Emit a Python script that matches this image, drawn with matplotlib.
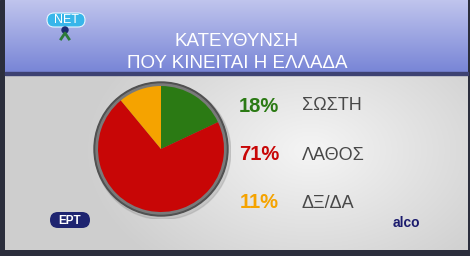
import numpy as np
import matplotlib
matplotlib.use("Agg")
import matplotlib.pyplot as plt
from matplotlib.patches import FancyBboxPatch, Circle

# ---- data ----
title_lines = ["ΚΑΤΕΥΘΥΝΣΗ", "ΠΟΥ ΚΙΝΕΙΤΑΙ Η ΕΛΛΑΔΑ"]
categories = ["ΣΩΣΤΗ", "ΛΑΘΟΣ", "ΔΞ/ΔΑ"]
values = [18, 71, 11]
colors = ["#2b7a14", "#c80606", "#f5a300"]
source = "alco"

W, H = 470, 256
fig = plt.figure(figsize=(W / 100, H / 100), dpi=100)
ax = fig.add_axes([0, 0, 1, 1])
ax.set_xlim(0, W)
ax.set_ylim(H, 0)
ax.axis("off")

regular = ["Liberation Sans", "DejaVu Sans"]

# background frame
ax.add_patch(plt.Rectangle((0, 0), W, H, color="#2b2e3c", zorder=0))

# grey panel with light glow
yy, xx = np.mgrid[76:250, 5:468]
d = np.sqrt(((xx - 310) / 180.0) ** 2 + ((yy - 150) / 120.0) ** 2)
g = np.clip(0.96 - 0.12 * d, 0.81, 0.96)
img = np.dstack([g, g, g])
ax.imshow(img, extent=[5, 468, 250, 76], zorder=1, aspect="auto")

# header gradient
t = np.linspace(0, 1, 73)[:, None]
top = np.array([0.75, 0.77, 0.93])
bot = np.array([0.47, 0.52, 0.84])
hdr = top + (bot - top) * t[..., None]
hdr = np.repeat(hdr, 2, axis=1)
ax.imshow(hdr, extent=[5, 468, 73, 0], zorder=1, aspect="auto")
ax.add_patch(plt.Rectangle((5, 72), 463, 3, color="#3d4272", zorder=2))

# title
ax.text(237, 41, title_lines[0], ha="center", va="center", color="white",
        fontsize=13.5, family=regular, zorder=3)
ax.text(237, 63, title_lines[1], ha="center", va="center", color="white",
        fontsize=13.5, family=regular, zorder=3)

# NET logo
ax.add_patch(FancyBboxPatch((47, 13), 38, 14, boxstyle="round,pad=0,rounding_size=7",
                            facecolor="#38b6ea", edgecolor="#e8f6ff", lw=0.8, zorder=3))
ax.text(66, 20, "NET", ha="center", va="center", color="white", fontsize=9,
        family=regular, zorder=4)
ax.add_patch(Circle((65, 30), 3, color="#1c2a70", zorder=3))
ax.plot([61, 65, 69], [39, 33, 39], color="#2c7a3a", lw=2, zorder=3)

# pie
pax = fig.add_axes([91 / W, (H - 149 - 70) / H, 140 / W, 140 / H])
pax.axis("off")
pax.add_patch(Circle((0.03, -0.04), 68 / 63, color="#9a9a9a", alpha=0.35, zorder=0))
pax.add_patch(Circle((0, 0), 67 / 63, color="#505050", zorder=1))
pax.add_patch(Circle((0, 0), 65 / 63, color="#7a7a7a", zorder=1))
wedges, _ = pax.pie(values, colors=colors, startangle=90, counterclock=False,
                    radius=1.0, wedgeprops=dict(linewidth=0))
for w in wedges:
    w.set_zorder(2)
pax.set_xlim(-70 / 63, 70 / 63)
pax.set_ylim(-70 / 63, 70 / 63)
pax.set_aspect("equal")

# percentages and labels
ys = [106, 155, 203]
for v, c, lab, y in zip(values, colors, categories, ys):
    ax.text(259, y, f"{v}%", ha="center", va="center", color=c, fontsize=14.5,
            fontweight="bold", family=regular, zorder=3)
    ax.text(302, y, lab, ha="left", va="center", color="#484848", fontsize=13,
            family=regular, zorder=3)

# ERT logo
ax.add_patch(FancyBboxPatch((50, 212), 40, 16, boxstyle="round,pad=0,rounding_size=8",
                            facecolor="#1e2470", edgecolor="none", zorder=3))
ax.text(70, 220.5, "ΕΡΤ", ha="center", va="center", color="white", fontsize=8.5,
        fontweight="bold", family=regular, zorder=4)

# source
ax.text(406, 223, source, ha="center", va="center", color="#1c1c6e", fontsize=10,
        fontweight="bold", family=regular, zorder=3)

fig.savefig("out.png", dpi=100)
